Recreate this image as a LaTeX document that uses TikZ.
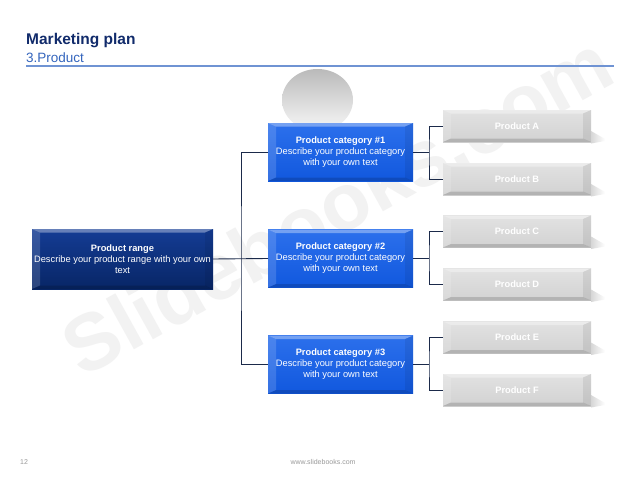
\documentclass[tikz,border=0pt]{standalone}
\usepackage{fontspec}
\setmainfont{Liberation Sans}
\usetikzlibrary{calc}
\definecolor{titlecol}{HTML}{112B6B}
\definecolor{subcol}{HTML}{3465BD}
\definecolor{rulecol}{HTML}{6F93D3}
\definecolor{rangeTop}{HTML}{143C94}
\definecolor{rangeBot}{HTML}{082666}
\definecolor{catTop}{HTML}{2C70EC}
\definecolor{catBot}{HTML}{1158DE}
\definecolor{prodTop}{HTML}{E2E2E2}
\definecolor{prodBot}{HTML}{D2D2D2}
\definecolor{conncol}{HTML}{1B2A4A}
\definecolor{footcol}{HTML}{9A9A9A}
\tikzset{
  bevelbox/.style={path picture={
    \fill[white,opacity=.35] (path picture bounding box.north west) -- (path picture bounding box.north east)
      -- ([xshift=-8pt,yshift=-3.5pt]path picture bounding box.north east) -- ([xshift=8pt,yshift=-3.5pt]path picture bounding box.north west) -- cycle;
    \fill[white,opacity=.15] (path picture bounding box.north west) -- ([xshift=8pt,yshift=-3.5pt]path picture bounding box.north west)
      -- ([xshift=8pt,yshift=3.5pt]path picture bounding box.south west) -- (path picture bounding box.south west) -- cycle;
    \fill[black,opacity=.15] (path picture bounding box.south west) -- ([xshift=8pt,yshift=3.5pt]path picture bounding box.south west)
      -- ([xshift=-8pt,yshift=3.5pt]path picture bounding box.south east) -- (path picture bounding box.south east) -- cycle;
    \fill[black,opacity=.07] (path picture bounding box.north east) -- ([xshift=-8pt,yshift=-3.5pt]path picture bounding box.north east)
      -- ([xshift=-8pt,yshift=3.5pt]path picture bounding box.south east) -- (path picture bounding box.south east) -- cycle;
  }},
  basebox/.style={bevelbox, rectangle, inner sep=0pt, outer sep=0pt, align=center, text=white,
    font=\fontsize{9.3}{11}\selectfont},
  rangebox/.style={basebox, minimum width=181pt, minimum height=60pt, top color=rangeTop, bottom color=rangeBot},
  catbox/.style={basebox, minimum width=145pt, minimum height=58pt, top color=catTop, bottom color=catBot},
  prodbox/.style={basebox, minimum width=148pt, minimum height=32pt, top color=prodTop, bottom color=prodBot,
    font=\fontsize{9.3}{11}\selectfont\bfseries},
  conn/.style={draw=conncol, line width=0.9pt},
  wm/.style={text=black!5, font=\fontsize{80}{80}\selectfont\bfseries, rotate=29},
}
\begin{document}
\begin{tikzpicture}[x=1pt,y=-1pt]
\useasboundingbox (0,0) rectangle (638,479);
\fill[white] (0,0) rectangle (638,479);
% watermark
\node[wm] (wm) at (337,205) {Slidebooks.com};
% header
\node[anchor=base west, inner sep=0pt, text=titlecol, font=\fontsize{15.5}{18}\selectfont\bfseries] (title) at (26,45) {Marketing plan};
\node[anchor=base west, inner sep=0pt, text=subcol, font=\fontsize{13.5}{16}\selectfont] (sub) at (26,62) {3.Product};
\draw[rulecol, line width=1.5pt] (26,66) -- (614,66);
% orb
\shade[top color=black!27, bottom color=black!3] (317.5,100) ellipse [x radius=35.5pt, y radius=31pt];
% boxes
\node[rangebox] (range) at (122.5,259) {\textbf{Product range}\\Describe your product range with your own\\text};
\node[catbox] (cat1) at (340.5,152) {\textbf{Product category \#1}\\Describe your product category\\with your own text};
\node[catbox] (cat2) at (340.5,258.5) {\textbf{Product category \#2}\\Describe your product category\\with your own text};
\node[catbox] (cat3) at (340.5,364.5) {\textbf{Product category \#3}\\Describe your product category\\with your own text};
\node[prodbox] (pA) at (517,126) {Product A};
\node[prodbox] (pB) at (517,179) {Product B};
\node[prodbox] (pC) at (517,231.5) {Product C};
\node[prodbox] (pD) at (517,284.5) {Product D};
\node[prodbox] (pE) at (517,337.5) {Product E};
\node[prodbox] (pF) at (517,390) {Product F};
% soft shadows of product boxes
\foreach \p in {pA,pB,pC,pD,pE,pF}{
  \shade[left color=black!16, right color=white]
    ([yshift=11pt]\p.south east) -- ([xshift=14pt,yshift=3pt]\p.south east)
    -- ([xshift=14pt,yshift=1pt]\p.south east) -- ([yshift=-1.5pt]\p.south east) -- cycle;
}
% connectors
\coordinate (trunk) at (241,258.5);
\coordinate (b1) at (429,152);
\coordinate (b2) at (429,258.5);
\coordinate (b3) at (429,364.5);
\draw[conn] (range.east) -- (cat2.west);
\draw[conn] (cat1.west) -| (trunk) |- (cat3.west);
\draw[conn] (cat1.east) -- (b1);
\draw[conn] (cat2.east) -- (b2);
\draw[conn] (cat3.east) -- (b3);
\draw[conn] (pA.west) -| (b1) |- (pB.west);
\draw[conn] (pC.west) -| (b2) |- (pD.west);
\draw[conn] (pE.west) -| (b3) |- (pF.west);
% footer
\node[anchor=base west, inner sep=0pt, text=footcol, font=\fontsize{7}{8}\selectfont] (pg) at (20,464) {12};
\node[anchor=base, inner sep=0pt, text=footcol, font=\fontsize{7}{8}\selectfont] (url) at (323,464) {www.slidebooks.com};
\end{tikzpicture}
\end{document}
